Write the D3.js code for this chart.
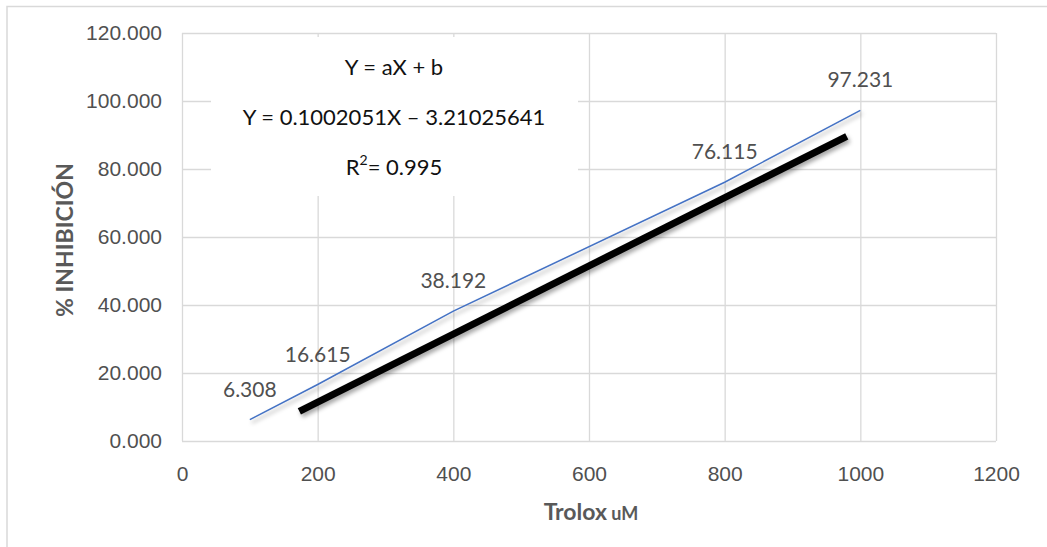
<!DOCTYPE html>
<html>
<head>
<meta charset="utf-8">
<script src="https://cdn.jsdelivr.net/npm/d3@7"></script>
<style>
  body { margin: 0; background: #fff; }
  svg { font-family: Lato, 'Liberation Sans', sans-serif; }
  .tick text { fill: #505050; font-size: 21px; }
  .grid line { stroke: #d9d9d9; stroke-width: 1.3; }
  .grid .domain { display: none; }
  .axis-label { fill: #595959; font-weight: bold; }
  .point-label { fill: #505050; font-size: 21px; }
  .eq-text { fill: #111; font-size: 22px; }
</style>
</head>
<body>
<svg id="chart" width="1047" height="547"></svg>
<script>
// Trolox calibration data
const trolox = [100, 200, 400, 800, 1000];
const inhibicion = [6.308, 16.615, 38.192, 76.115, 97.231];

// hand-drawn thick line (start / end points)
const markX = [173, 980];
const markY = [8.7, 89.6];

const xTicks = [0, 200, 400, 600, 800, 1000, 1200];
const yTicks = [0, 20, 40, 60, 80, 100, 120];

const eqLines = ['Y = aX + b', 'Y = 0.1002051X \u2013 3.21025641'];
const r2Text = '= 0.995';

const svg = d3.select('#chart');
const margin = { top: 33, right: 51, bottom: 106, left: 182 };
const width = 1047 - margin.left - margin.right;
const height = 547 - margin.top - margin.bottom;

// outer chart border (cropped on the right and bottom)
svg.append('path')
  .attr('d', 'M7,547 V6.5 H1047')
  .attr('fill', 'none')
  .attr('stroke', '#d9d9d9')
  .attr('stroke-width', 1.5);

const defs = svg.append('defs');
defs.append('filter')
  .attr('id', 'shadow')
  .attr('x', '-10%').attr('y', '-10%')
  .attr('width', '130%').attr('height', '140%')
  .append('feDropShadow')
  .attr('dx', 2).attr('dy', 3)
  .attr('stdDeviation', 2)
  .attr('flood-color', '#000')
  .attr('flood-opacity', 0.35);

const plot = svg.append('g')
  .attr('transform', `translate(${margin.left}, ${margin.top})`);

const xScale = d3.scaleLinear().domain([0, 1200]).range([0, width]);
const yScale = d3.scaleLinear().domain([0, 120]).range([height, 0]);

// Gridlines + tick labels
plot.append('g')
  .attr('class', 'grid')
  .attr('transform', `translate(0, ${height})`)
  .call(d3.axisBottom(xScale).tickValues(xTicks).tickSize(-height).tickPadding(25).tickFormat(d3.format('d')));

plot.append('g')
  .attr('class', 'grid')
  .call(d3.axisLeft(yScale).tickValues(yTicks).tickSize(-width).tickPadding(20).tickFormat(d3.format('.3f')));

// Axis titles
svg.append('text')
  .attr('class', 'axis-label')
  .attr('x', 591)
  .attr('y', 520)
  .attr('text-anchor', 'middle')
  .call(t => {
    t.append('tspan').attr('font-size', 23).text('Trolox');
    t.append('tspan').attr('font-size', 18).text(' uM');
  });

svg.append('text')
  .attr('class', 'axis-label')
  .attr('transform', 'rotate(-90)')
  .attr('x', -240)
  .attr('y', 73)
  .attr('text-anchor', 'middle')
  .attr('font-size', 23)
  .text('% INHIBICIÓN');

// Series
const points = trolox.map((x, i) => ({ x, y: inhibicion[i] }));
const markPts = markX.map((x, i) => ({ x, y: markY[i] }));

const line = d3.line()
  .x(d => xScale(d.x))
  .y(d => yScale(d.y));

plot.append('path')
  .datum(points)
  .attr('d', line)
  .attr('fill', 'none')
  .attr('stroke', '#4472c4')
  .attr('stroke-width', 1.5)
  .attr('filter', 'url(#shadow)');

plot.append('path')
  .datum(markPts)
  .attr('d', line)
  .attr('fill', 'none')
  .attr('stroke', '#000')
  .attr('stroke-width', 7)
  .attr('filter', 'url(#shadow)');

// Data labels
plot.selectAll('.point-label')
  .data(points)
  .enter()
  .append('text')
  .attr('class', 'point-label')
  .attr('x', d => xScale(d.x))
  .attr('y', d => yScale(d.y) - 23)
  .attr('text-anchor', 'middle')
  .text(d => d.y.toFixed(3));

// Equation box
const box = svg.append('g');
box.append('rect')
  .attr('x', 211).attr('y', 37)
  .attr('width', 367).attr('height', 159)
  .attr('fill', '#fff');

eqLines.forEach((s, i) => {
  box.append('text')
    .attr('class', 'eq-text')
    .attr('x', 394)
    .attr('y', 75 + i * 50)
    .attr('text-anchor', 'middle')
    .text(s);
});

box.append('text')
  .attr('class', 'eq-text')
  .attr('x', 394)
  .attr('y', 175)
  .attr('text-anchor', 'middle')
  .call(t => {
    t.append('tspan').text('R');
    t.append('tspan').attr('font-size', 14).attr('dy', -10).text('2');
    t.append('tspan').attr('dy', 10).text(r2Text);
  });
</script>
</body>
</html>
